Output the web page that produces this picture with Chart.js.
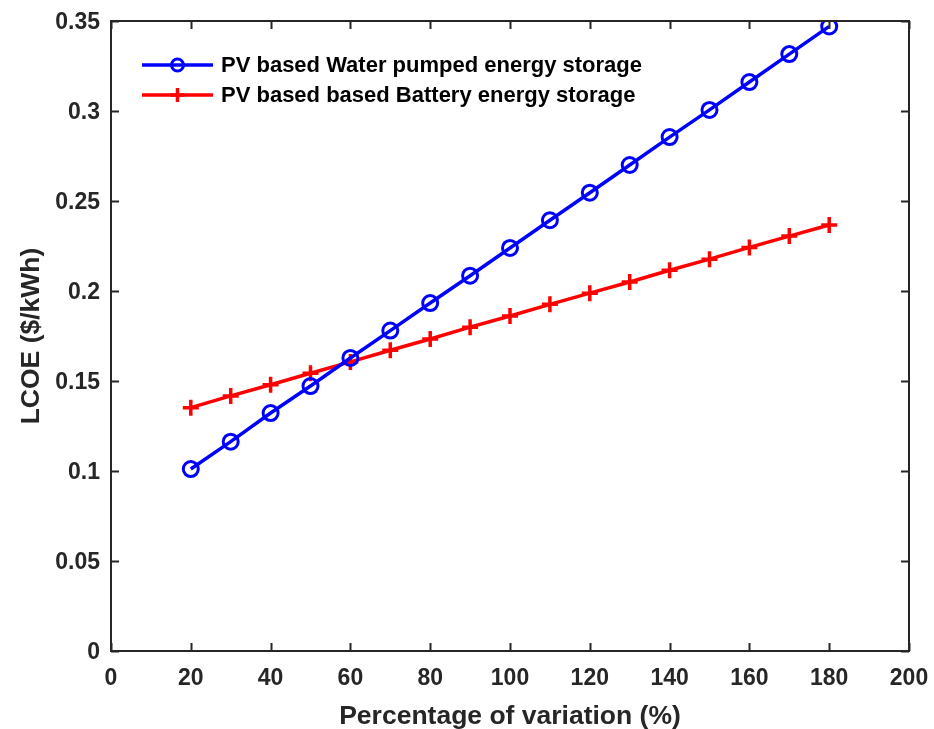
<!DOCTYPE html>
<html lang="en">
<head>
<meta charset="UTF-8">
<title>LCOE vs Percentage of variation</title>
<script src="https://cdn.jsdelivr.net/npm/chart.js@4.4.0/dist/chart.umd.min.js"></script>
<style>
  html, body { margin: 0; padding: 0; background: #fff; }
  #wrap { width: 934px; height: 729px; position: relative; }
</style>
</head>
<body>
<div id="wrap"><canvas id="lcoe"></canvas></div>
<script>
// Percentage of variation (%)
const variation = [20, 30, 40, 50, 60, 70, 80, 90, 100, 110, 120, 130, 140, 150, 160, 170, 180];
// LCOE ($/kWh)
const waterPumped = [0.1011, 0.1163, 0.1322, 0.1472, 0.1628, 0.1780, 0.1933, 0.2085, 0.2239, 0.2393, 0.2546, 0.2700, 0.2855, 0.3006, 0.3161, 0.3316, 0.3470];
const battery = [0.1352, 0.1417, 0.1479, 0.1543, 0.1606, 0.1671, 0.1733, 0.1799, 0.1861, 0.1926, 0.1988, 0.2050, 0.2115, 0.2177, 0.2242, 0.2305, 0.2367];
const xTicks = [0, 20, 40, 60, 80, 100, 120, 140, 160, 180, 200];
const yTicks = [0, 0.05, 0.1, 0.15, 0.2, 0.25, 0.3, 0.35];

const FONT = 'Liberation Sans, Arial, sans-serif';
const INK = '#262626';

const toPoints = ys => variation.map((x, i) => ({ x, y: ys[i] }));

// axes box with inward ticks on all four sides (MATLAB style)
const boxPlugin = {
  id: 'box',
  afterDatasetsDraw(chart) {
    const { ctx, chartArea: a, scales } = chart;
    const len = 8;
    ctx.save();
    ctx.strokeStyle = INK;
    ctx.lineWidth = 2;
    ctx.strokeRect(a.left, a.top, a.right - a.left, a.bottom - a.top);
    ctx.beginPath();
    xTicks.forEach(v => {
      const px = Math.round(scales.x.getPixelForValue(v)) + 0.5;
      ctx.moveTo(px, a.bottom); ctx.lineTo(px, a.bottom - len);
      ctx.moveTo(px, a.top); ctx.lineTo(px, a.top + len);
    });
    yTicks.forEach(v => {
      const py = Math.round(scales.y.getPixelForValue(v)) + 0.5;
      ctx.moveTo(a.left, py); ctx.lineTo(a.left + len, py);
      ctx.moveTo(a.right, py); ctx.lineTo(a.right - len, py);
    });
    ctx.stroke();
    ctx.restore();
  }
};

// legend drawn inside the plot area, top-left
const innerLegend = {
  id: 'innerLegend',
  afterDraw(chart) {
    const { ctx, chartArea: a } = chart;
    const x0 = a.left + 31, lineLen = 71;
    let y = a.top + 44;
    ctx.save();
    ctx.font = 'bold 22px ' + FONT;
    ctx.textBaseline = 'middle';
    chart.data.datasets.forEach(ds => {
      ctx.strokeStyle = ds.borderColor;
      ctx.lineWidth = ds.borderWidth;
      ctx.beginPath();
      ctx.moveTo(x0, y); ctx.lineTo(x0 + lineLen, y);
      ctx.stroke();
      ctx.fillStyle = 'rgba(0,0,0,0)';
      ctx.lineWidth = ds.pointBorderWidth;
      Chart.helpers.drawPoint(ctx, {
        pointStyle: ds.pointStyle,
        radius: ds.legendRadius,
        borderWidth: ds.pointBorderWidth
      }, x0 + lineLen / 2, y);
      ctx.fillStyle = '#000';
      ctx.fillText(ds.label, x0 + lineLen + 8, y + 1);
      y += 30;
    });
    ctx.restore();
  }
};

// keep the plot box fixed: drop the extra room Chart.js reserves for edge labels
const noEdgePad = s => {
  s.paddingLeft = 0; s.paddingRight = 0; s.paddingTop = 0; s.paddingBottom = 0;
};

new Chart(document.getElementById('lcoe'), {
  type: 'line',
  data: {
    datasets: [
      {
        label: 'PV based Water pumped energy storage',
        data: toPoints(waterPumped),
        borderColor: '#0000ff',
        backgroundColor: 'rgba(0,0,0,0)',
        borderWidth: 3.5,
        pointStyle: 'circle',
        pointRadius: 7.5,
        legendRadius: 6,
        pointBorderWidth: 3,
        pointBackgroundColor: 'rgba(0,0,0,0)',
        pointBorderColor: '#0000ff'
      },
      {
        label: 'PV based based Battery energy storage',
        data: toPoints(battery),
        borderColor: '#ff0000',
        backgroundColor: 'rgba(0,0,0,0)',
        borderWidth: 3.5,
        pointStyle: 'cross',
        pointRadius: 8,
        legendRadius: 7,
        pointBorderWidth: 3.5,
        pointBorderColor: '#ff0000'
      }
    ]
  },
  options: {
    responsive: true,
    maintainAspectRatio: false,
    animation: false,
    layout: { padding: { top: 21, right: 25, left: 0, bottom: 0 } },
    plugins: {
      legend: { display: false },
      tooltip: { enabled: false }
    },
    scales: {
      x: {
        type: 'linear',
        min: 0, max: 200,
        afterBuildTicks: s => { s.ticks = xTicks.map(v => ({ value: v })); },
        afterFit: s => { s.height = 78; noEdgePad(s); },
        grid: { display: false, drawTicks: false },
        border: { display: false },
        ticks: {
          color: INK, padding: 14,
          font: { family: FONT, size: 23, weight: 'bold' },
          maxRotation: 0
        },
        title: {
          display: true, text: 'Percentage of variation (%)', color: INK,
          font: { family: FONT, size: 26.5, weight: 'bold', lineHeight: 0.9 },
          padding: { top: 0, bottom: 0 }
        }
      },
      y: {
        type: 'linear',
        min: 0, max: 0.35,
        afterBuildTicks: s => { s.ticks = yTicks.map(v => ({ value: v })); },
        afterFit: s => { s.width = 111; noEdgePad(s); },
        grid: { display: false, drawTicks: false },
        border: { display: false },
        ticks: {
          color: INK, padding: 11, labelOffset: 2,
          font: { family: FONT, size: 23, weight: 'bold' },
          callback: v => String(+v.toFixed(2))
        },
        title: {
          display: true, text: 'LCOE ($/kWh)', color: INK,
          font: { family: FONT, size: 26.5, weight: 'bold' },
          padding: { top: 16, bottom: 0 }
        }
      }
    }
  },
  plugins: [boxPlugin, innerLegend]
});
</script>
</body>
</html>
